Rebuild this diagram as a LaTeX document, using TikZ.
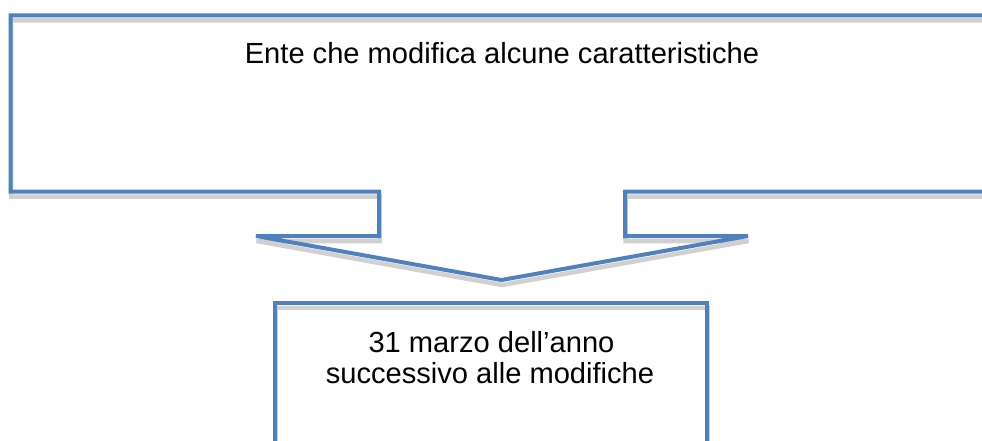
\documentclass[tikz,border=0pt]{standalone}
\usepackage{fontspec}
\setmainfont{Liberation Sans}
\definecolor{outl}{HTML}{4F81BD}
\definecolor{shad}{HTML}{D0D0D0}
\tikzset{
  outline/.style={draw=outl, line width=4pt, line join=miter},
  shadowline/.style={draw=shad, line width=4.5pt, line join=miter},
  txt/.style={font=\fontsize{29.1}{31}\selectfont, text=black, align=center, inner sep=0pt}
}
\begin{document}
\begin{tikzpicture}[x=1pt, y=-1pt]
\useasboundingbox (0,0) rectangle (982,441);
\clip (0,0) rectangle (982,441);
% callout coordinates
\coordinate (tl) at (10.5,15.5);
\coordinate (tr) at (1000,15.5);
\coordinate (br) at (1000,191.5);
\coordinate (sr) at (625,191.5);
\coordinate (srb) at (625,236);
\coordinate (hr) at (748,236);
\coordinate (tip) at (501.5,280);
\coordinate (hl) at (256,236);
\coordinate (slb) at (379,236);
\coordinate (sl) at (379,191.5);
\coordinate (bl) at (10.5,191.5);
% lower box
\coordinate (b1) at (275,303);
\coordinate (b2) at (707,303);
\coordinate (b3) at (707,470);
\coordinate (b4) at (275,470);
% shadows
\begin{scope}[transform canvas={shift={(0.5pt,-5pt)}}]
\draw[shadowline] (tl) -- (tr) -- (br) -- (sr) -- (srb) -- (hr) -- (tip) -- (hl) -- (slb) -- (sl) -- (bl) -- cycle;
\draw[shadowline] (b1) -- (b2) -- (b3) -- (b4) -- cycle;
\end{scope}
% outlines
\draw[outline] (tl) -- (tr) -- (br) -- (sr) -- (srb) -- (hr) -- (tip) -- (hl) -- (slb) -- (sl) -- (bl) -- cycle;
\draw[outline] (b1) -- (b2) -- (b3) -- (b4) -- cycle;
% texts
\node[txt, anchor=base] (top) at (502,63.3) {Ente che modifica alcune caratteristiche};
\node[txt, anchor=base] (l1) at (491.5,352.7) {31 marzo dell’anno};
\node[txt, anchor=base] (l2) at (490,383.5) {successivo alle modifiche};
\end{tikzpicture}
\end{document}
